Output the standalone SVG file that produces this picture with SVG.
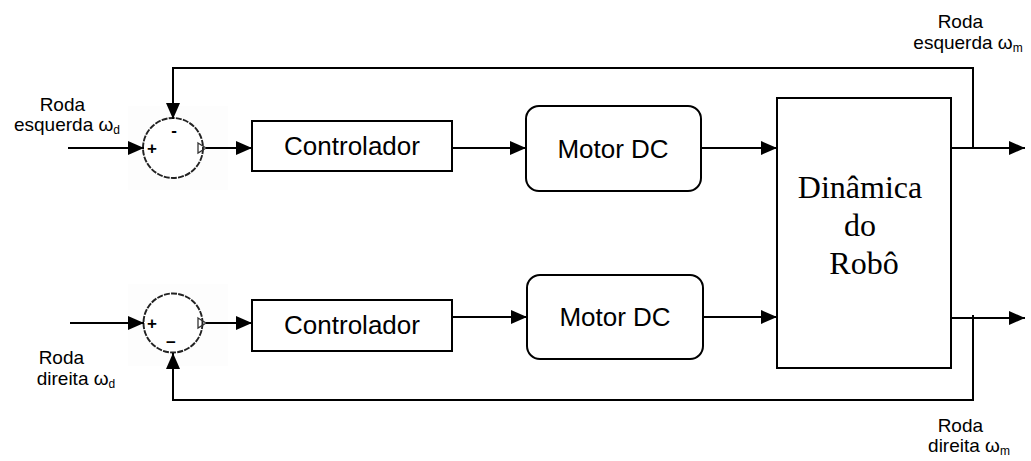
<svg xmlns="http://www.w3.org/2000/svg" width="1031" height="461" viewBox="0 0 1031 461">
  <style>
    .blk { fill: #ffffff; stroke: #000000; stroke-width: 2; }
    .sum { fill: #ffffff; stroke: #222222; stroke-width: 1.9; stroke-dasharray: 6 1.2; }
    .pad { fill: #fdfdfd; stroke: none; }
    .wire { fill: none; stroke: #000000; stroke-width: 2; }
    .sans { font-family: "Liberation Sans", Arial, sans-serif; fill: #000000; }
    .serif { font-family: "Liberation Serif", "Times New Roman", serif; fill: #000000; }
    .lbl { font-size: 19px; }
    .box { font-size: 26px; }
    .sign { font-size: 17px; font-weight: bold; }
  </style>
  <defs>
    <marker id="arrow" markerWidth="16" markerHeight="14" refX="16" refY="7" orient="auto" markerUnits="userSpaceOnUse">
      <path d="M0,0 L16,7 L0,14 Z" fill="#000000"/>
    </marker>
  </defs>

  <rect width="1031" height="461" fill="#ffffff"/>

  <!-- upper summing junction -->
  <g id="sum-left">
    <rect class="pad" x="128" y="106" width="100" height="84"/>
    <circle class="sum" cx="173" cy="148" r="30"/>
    <text class="sans sign" x="152" y="154" text-anchor="middle">+</text>
    <text class="sans sign" x="174" y="136" text-anchor="middle">-</text>
    <path d="M198,143 L206,148 L198,153 Z" fill="none" stroke="#333333" stroke-width="1.3"/>
  </g>

  <!-- lower summing junction -->
  <g id="sum-right">
    <rect class="pad" x="128" y="284" width="100" height="82"/>
    <circle class="sum" cx="173" cy="323" r="29.5"/>
    <text class="sans sign" x="152" y="329" text-anchor="middle">+</text>
    <text class="sans sign" x="171" y="348" text-anchor="middle">−</text>
    <path d="M198,318 L206,323 L198,328 Z" fill="none" stroke="#333333" stroke-width="1.3"/>
  </g>

  <g id="controller-left">
    <rect class="blk" x="252" y="121" width="200" height="50"/>
    <text class="sans box" x="352" y="155" text-anchor="middle">Controlador</text>
  </g>

  <g id="controller-right">
    <rect class="blk" x="252" y="300" width="200" height="51"/>
    <text class="sans box" x="352" y="334" text-anchor="middle">Controlador</text>
  </g>

  <g id="motor-left">
    <rect class="blk" x="526" y="106" width="175" height="85" rx="13" ry="13"/>
    <text class="sans box" x="613" y="158" text-anchor="middle">Motor DC</text>
  </g>

  <g id="motor-right">
    <rect class="blk" x="527" y="275" width="176" height="84" rx="13" ry="13"/>
    <text class="sans box" x="615" y="326" text-anchor="middle">Motor DC</text>
  </g>

  <g id="robot-dynamics">
    <rect class="blk" x="777" y="98" width="174" height="270"/>
    <text class="serif" font-size="32" text-anchor="middle">
      <tspan x="864" y="198">Dinâmica</tspan>
      <tspan x="864" y="236">do</tspan>
      <tspan x="864" y="274">Robô</tspan>
    </text>
  </g>

  <!-- connectors -->
  <g id="connectors">
    <!-- upper loop -->
    <line class="wire" x1="68" y1="148" x2="144" y2="148" marker-end="url(#arrow)"/>
    <line class="wire" x1="206" y1="148" x2="252" y2="148" marker-end="url(#arrow)"/>
    <line class="wire" x1="452" y1="148" x2="526" y2="148" marker-end="url(#arrow)"/>
    <line class="wire" x1="701" y1="148" x2="777" y2="148" marker-end="url(#arrow)"/>
    <line class="wire" x1="951" y1="148" x2="1025" y2="148" marker-end="url(#arrow)"/>
    <polyline class="wire" points="973,148 973,68 173,68 173,119" marker-end="url(#arrow)"/>
    <!-- lower loop -->
    <line class="wire" x1="70" y1="323" x2="144" y2="323" marker-end="url(#arrow)"/>
    <line class="wire" x1="206" y1="323" x2="252" y2="323" marker-end="url(#arrow)"/>
    <line class="wire" x1="452" y1="317" x2="527" y2="317" marker-end="url(#arrow)"/>
    <line class="wire" x1="703" y1="317" x2="777" y2="317" marker-end="url(#arrow)"/>
    <line class="wire" x1="951" y1="318" x2="1025" y2="318" marker-end="url(#arrow)"/>
    <polyline class="wire" points="973,315 973,400 173,400 173,353" marker-end="url(#arrow)"/>
  </g>

  <!-- signal labels -->
  <g id="labels">
    <text class="sans lbl" text-anchor="middle">
      <tspan x="65" y="111">Roda</tspan>
      <tspan x="67" y="131">esquerda ω<tspan font-size="12" dy="3">d</tspan></tspan>
    </text>
    <text class="sans lbl" text-anchor="middle">
      <tspan x="64" y="364">Roda</tspan>
      <tspan x="76" y="385">direita ω<tspan font-size="12" dy="3">d</tspan></tspan>
    </text>
    <text class="sans lbl" text-anchor="middle">
      <tspan x="963" y="28">Roda</tspan>
      <tspan x="968" y="49">esquerda ω<tspan font-size="12" dy="3">m</tspan></tspan>
    </text>
    <text class="sans lbl" text-anchor="middle">
      <tspan x="963" y="432">Roda</tspan>
      <tspan x="969" y="452">direita ω<tspan font-size="12" dy="3">m</tspan></tspan>
    </text>
  </g>
</svg>
